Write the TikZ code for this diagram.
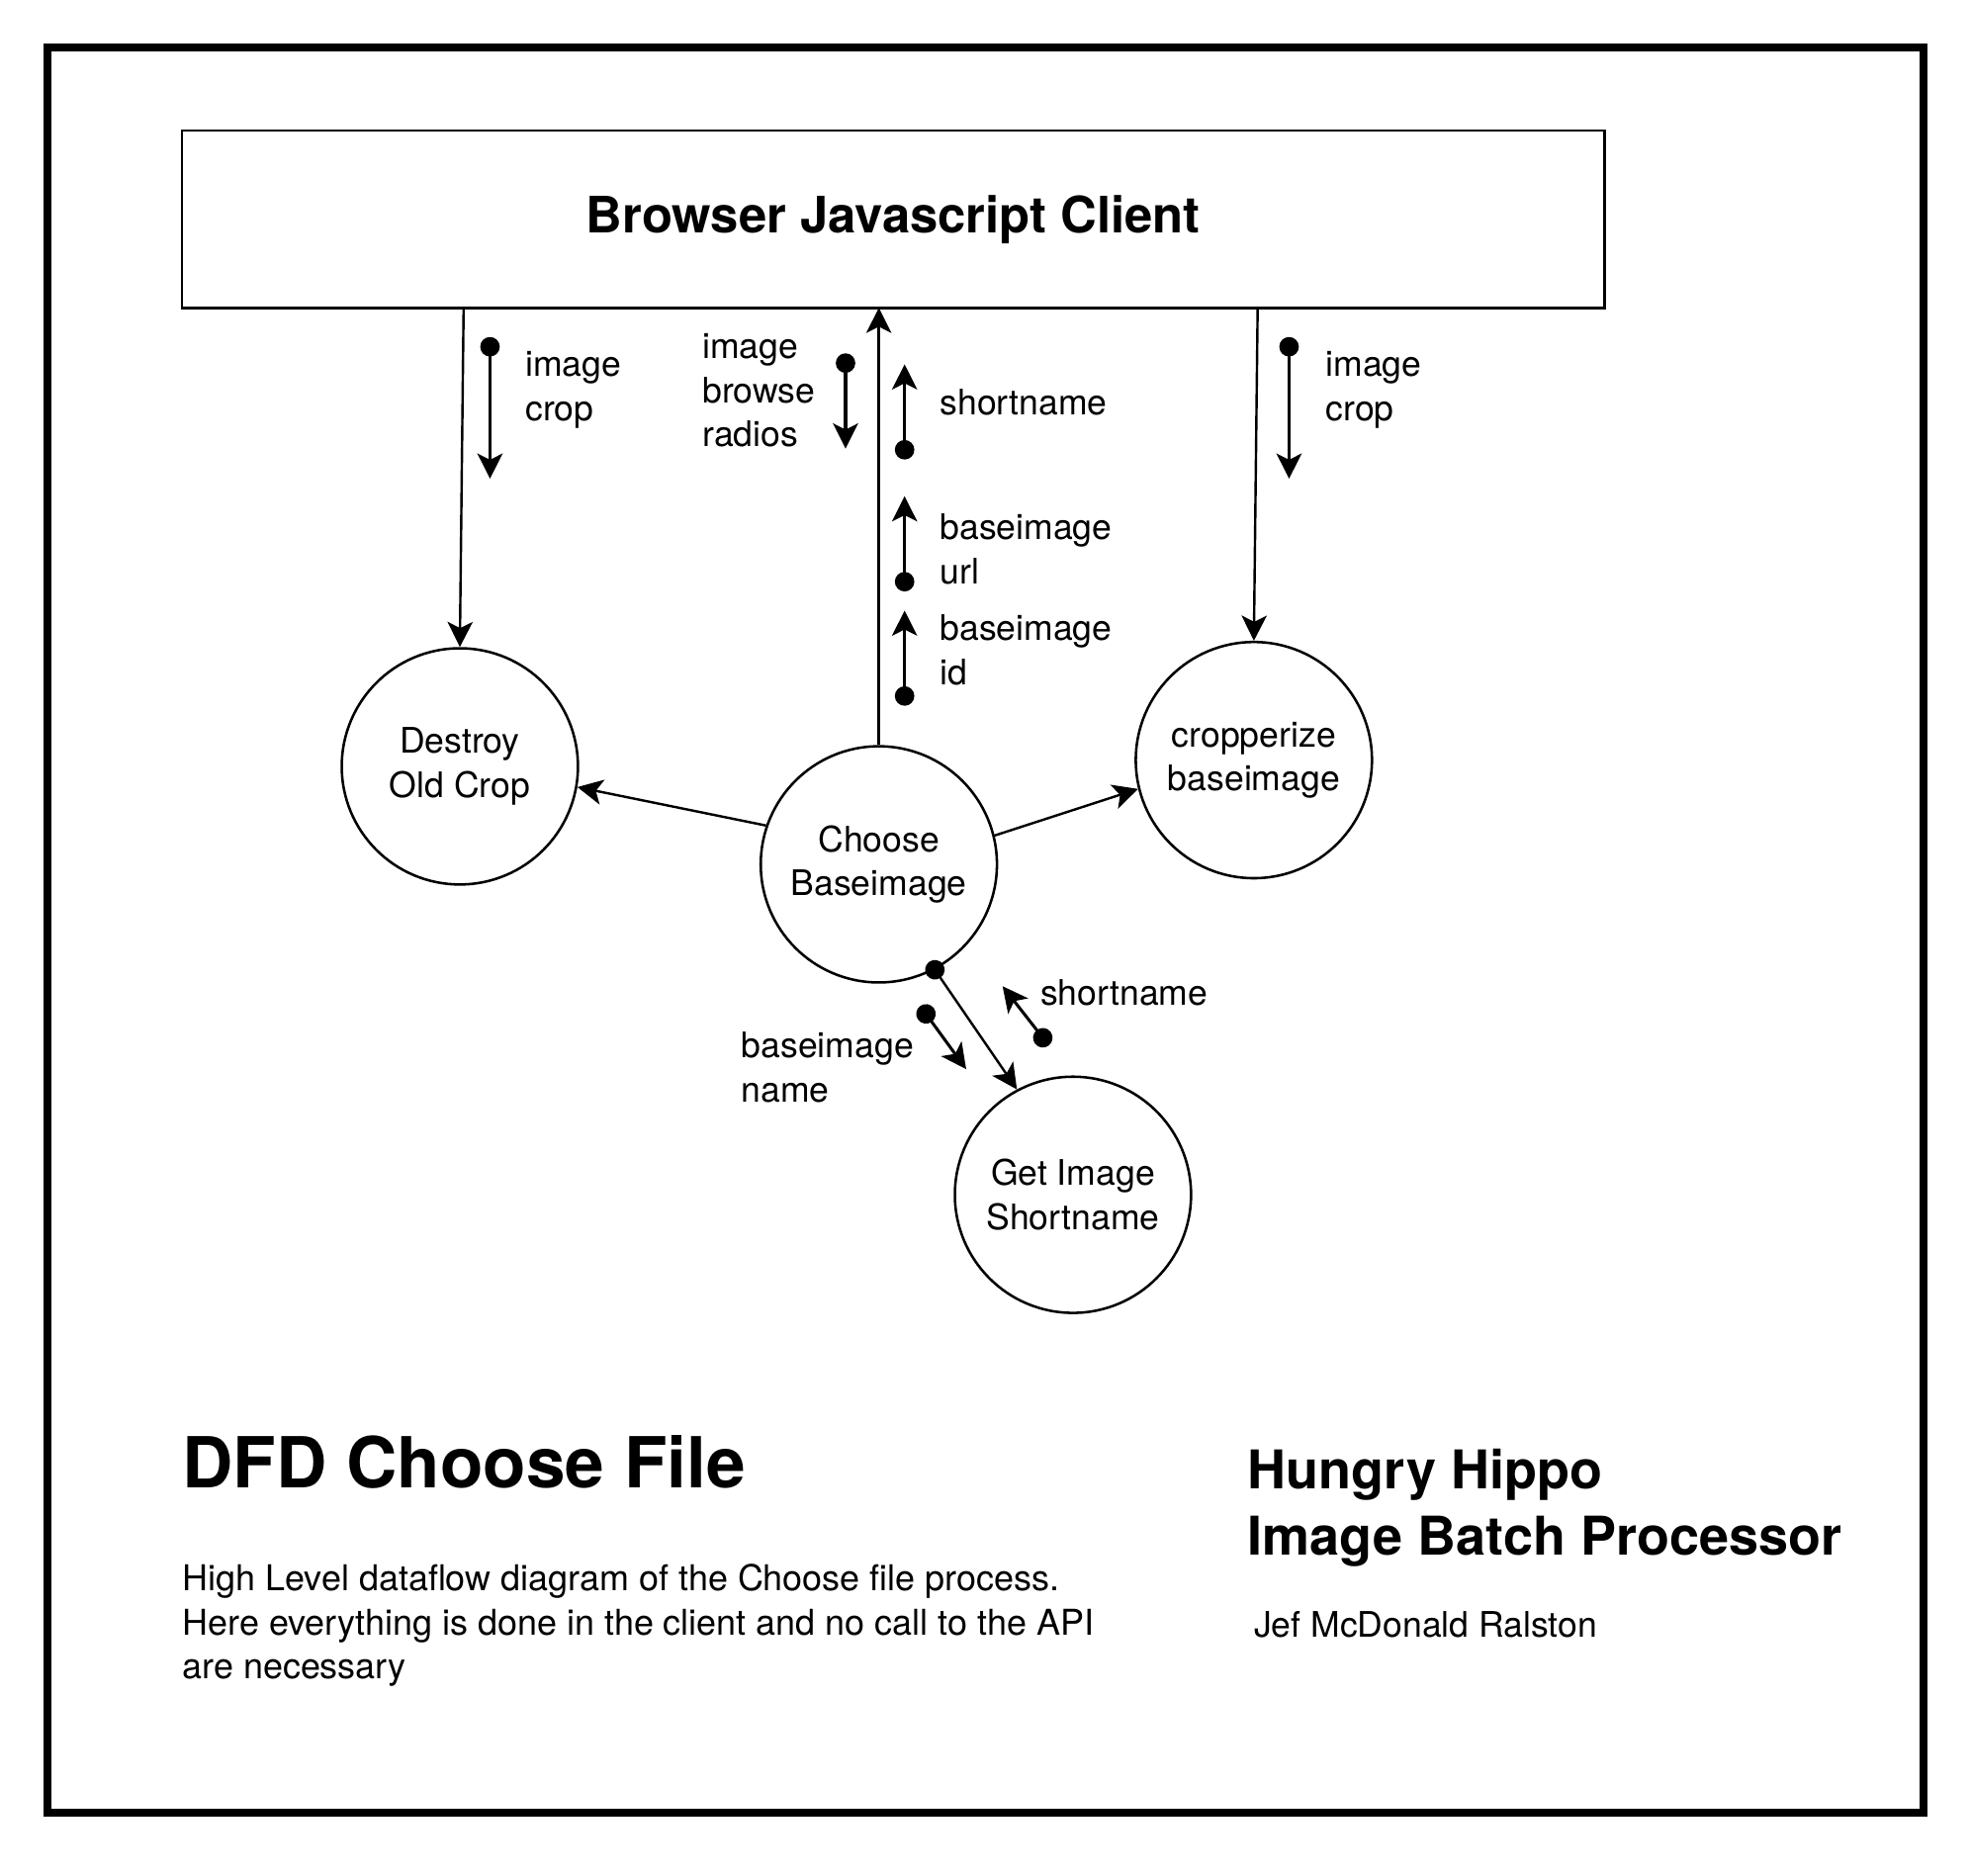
\documentclass[tikz,border=0pt]{standalone}
\usepackage{fontspec}
\setmainfont{TeX Gyre Heros}
\usetikzlibrary{arrows.meta}
\begin{document}
\begin{tikzpicture}[x=1pt,y=-1pt,
  proc/.style={circle, draw, line width=2pt, minimum size=188pt, inner sep=0pt, align=center, font=\fontsize{28}{35}\selectfont},
  tipend/.style={-{Stealth[length=20pt,width=20pt,inset=5pt]}},
  conn/.style={line width=1.9pt, tipend},
  dotconn/.style={line width=1.9pt, {Circle[length=15.5pt]}-{Stealth[length=20pt,width=20pt,inset=5pt]}, shorten <=-7.75pt},
  dflow/.style={line width=2.4pt, {Circle[length=15.5pt]}-{Stealth[length=20pt,width=20pt,inset=5pt]}, shorten <=-7.75pt},
  lbl/.style={anchor=west, inner sep=0pt, align=left, font=\fontsize{28}{35}\selectfont},
]
\useasboundingbox (0,0) rectangle (1568,1492.5);
\draw[line width=6pt] (38,38) rectangle (1531,1443);

\node[draw, line width=2pt, minimum width=1132pt, minimum height=141pt, inner sep=0pt, font=\fontsize{40}{48}\selectfont\bfseries] (client) at (711,174.5) {Browser Javascript Client};

\node[proc] (dest) at (366,610) {Destroy\\Old Crop};
\node[proc] (choose) at (699.5,688) {Choose\\Baseimage};
\node[proc] (crop) at (998,605) {cropperize\\baseimage};
\node[proc] (get) at (854,951) {Get Image\\Shortname};

\coordinate (cl1) at (369,245);
\coordinate (cl2) at (699.5,245);
\coordinate (cl3) at (1001,245);
\draw[conn] (cl1) -- (dest.north);
\draw[conn] (cl3) -- (crop.north);
\draw[conn] (choose.north) -- (cl2);
\draw[conn] (choose.161) -- (dest.-10);
\draw[conn] (choose.14) -- (crop.194);
\draw[dotconn] (choose.-62) -- (get.118);

\coordinate (a1s) at (390,276); \coordinate (a1e) at (390,381);
\draw[dflow] (a1s) -- (a1e);
\node[lbl] (l1) at (418,310.5) {image\\crop};

\coordinate (a2s) at (673,289); \coordinate (a2e) at (673,357);
\draw[dflow] (a2s) -- (a2e);
\node[lbl] (l2) at (559,311) {image\\browse\\radios};

\coordinate (a3s) at (720,358); \coordinate (a3e) at (720,290);
\draw[dflow] (a3s) -- (a3e);
\node[lbl] (l3) at (748,320) {shortname};

\coordinate (a4s) at (720,463); \coordinate (a4e) at (720,395);
\draw[dflow] (a4s) -- (a4e);
\node[lbl] (l4) at (748,437) {baseimage\\url};

\coordinate (a5s) at (720,554); \coordinate (a5e) at (720,486);
\draw[dflow] (a5s) -- (a5e);
\node[lbl] (l5) at (748,517.5) {baseimage\\id};

\coordinate (a6s) at (1026,276); \coordinate (a6e) at (1026,381);
\draw[dflow] (a6s) -- (a6e);
\node[lbl] (l6) at (1055,310.5) {image\\crop};

\coordinate (a7s) at (737,807); \coordinate (a7e) at (769,851);
\draw[dflow] (a7s) -- (a7e);
\node[lbl] (l7) at (590,849.5) {baseimage\\name};

\coordinate (a8s) at (830,826); \coordinate (a8e) at (798,785);
\draw[dflow] (a8s) -- (a8e);
\node[lbl] (l8) at (828,790) {shortname};

\node[anchor=west, inner sep=0pt, font=\fontsize{56}{67}\selectfont\bfseries] (title) at (145,1164) {DFD Choose File};
\node[lbl, font=\fontsize{42.5}{53}\selectfont\bfseries] (proj) at (993,1200) {Hungry Hippo\\Image Batch Processor};
\node[lbl] (author) at (998,1293) {Jef McDonald Ralston};
\node[lbl, font=\fontsize{28.3}{35}\selectfont] (desc) at (145,1294) {High Level dataflow diagram of the Choose file process.\\Here everything is done in the client and no call to the API\\are necessary};
\end{tikzpicture}
\end{document}
